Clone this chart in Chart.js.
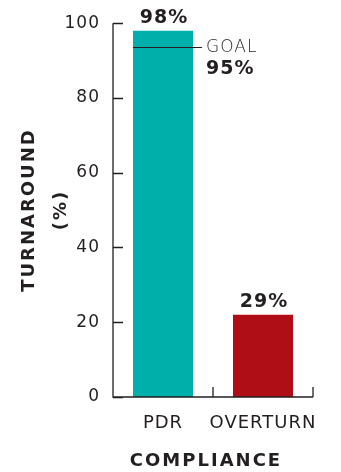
<!DOCTYPE html>
<html>
<head>
<meta charset="utf-8">
<script src="https://cdn.jsdelivr.net/npm/chart.js@4"></script>
<style>
  html, body { margin: 0; padding: 0; background: #fff; }
  .wrap { width: 341px; height: 472px; }
</style>
</head>
<body>
<div class="wrap"><canvas id="myChart" width="341" height="472"></canvas></div>
<script>
const categories = ['PDR', 'OVERTURN']
const turnaround = [98, 22]
const value_labels = ['98%', '29%']
const bar_colors = ['#00aeaa', '#b00e17']
const y_ticks = [0, 20, 40, 60, 80, 100]
const goal_value = 93.5
const goal_labels = ['GOAL', '95%']

const ink = '#231f20'
const family = '"DejaVu Sans", sans-serif'

// axis lines, inward ticks and all the extra text
const extras = {
    id: 'extras',
    beforeDraw(chart) {
        chart.ctx.letterSpacing = '1px'
    },
    afterDraw(chart) {
        const ctx = chart.ctx
        const x = chart.scales.x
        const y = chart.scales.y
        const y0 = y.getPixelForValue(0)
        const yTop = y.getPixelForValue(100)
        const left = chart.chartArea.left
        const right = chart.chartArea.right
        ctx.save()
        ctx.strokeStyle = ink
        ctx.lineWidth = 1.3
        ctx.beginPath()
        ctx.moveTo(left, yTop)
        ctx.lineTo(left, y0)
        ctx.lineTo(right, y0)
        y_ticks.forEach(v => {
            const py = Math.round(y.getPixelForValue(v)) + 0.5
            ctx.moveTo(left, py)
            ctx.lineTo(left + 10, py)
        })
        const half = (x.getPixelForValue(1) - x.getPixelForValue(0)) / 2
        categories.forEach((c, i) => {
            const px = x.getPixelForValue(i) + half
            ctx.moveTo(px, y0)
            ctx.lineTo(px, y0 - 10)
        })
        ctx.stroke()

        // goal line
        const meta = chart.getDatasetMeta(0).data[0]
        const gy = Math.round(y.getPixelForValue(goal_value)) + 0.5
        ctx.lineWidth = 1
        ctx.beginPath()
        ctx.moveTo(meta.x - meta.width / 2, gy)
        ctx.lineTo(meta.x + meta.width / 2 + 9, gy)
        ctx.stroke()

        ctx.fillStyle = ink
        ctx.textBaseline = 'middle'
        ctx.textAlign = 'left'
        ctx.letterSpacing = '1px'
        ctx.font = '300 17px ' + family
        ctx.fillText(goal_labels[0], meta.x + meta.width / 2 + 13, gy)
        ctx.font = 'bold 19px ' + family
        ctx.fillText(goal_labels[1], meta.x + meta.width / 2 + 13, gy + 22)

        // value labels
        ctx.textAlign = 'center'
        chart.getDatasetMeta(0).data.forEach((bar, i) => {
            ctx.fillText(value_labels[i], bar.x + 1, bar.y - 13)
        })

        // axis titles
        ctx.font = 'bold 18px ' + family
        ctx.letterSpacing = '2px'
        ctx.fillText('COMPLIANCE', 206, 461)
        const cy = (yTop + y0) / 2
        ctx.translate(29, cy)
        ctx.rotate(-Math.PI / 2)
        ctx.fillText('TURNAROUND', 0, 0)
        ctx.fillText('(%)', 0, 32)
        ctx.restore()
    }
}

const ctx = document.getElementById('myChart')

new Chart(ctx, {
    type: 'bar',
    data: {
        labels: categories,
        datasets: [{
            data: turnaround,
            backgroundColor: bar_colors,
            borderWidth: 0,
            barPercentage: 0.6,
            categoryPercentage: 1
        }]
    },
    plugins: [extras],
    options: {
        responsive: false,
        animation: false,
        events: [],
        layout: { padding: { top: 23, right: 28, left: 0, bottom: 0 } },
        plugins: {
            legend: { display: false },
            tooltip: { enabled: false }
        },
        scales: {
            x: {
                offset: true,
                grid: { display: false },
                border: { display: false },
                ticks: {
                    color: ink,
                    padding: 8,
                    autoSkip: false,
                    maxRotation: 0,
                    minRotation: 0,
                    font: { family: family, size: 18 }
                },
                afterFit: s => { s.height = 75 }
            },
            y: {
                min: 0,
                max: 100,
                grid: { display: false, drawTicks: false },
                border: { display: false },
                ticks: {
                    stepSize: 20,
                    color: ink,
                    padding: 13,
                    font: { family: family, size: 17 }
                },
                afterFit: s => { s.width = 113 }
            }
        }
    }
});
</script>
</body>
</html>
